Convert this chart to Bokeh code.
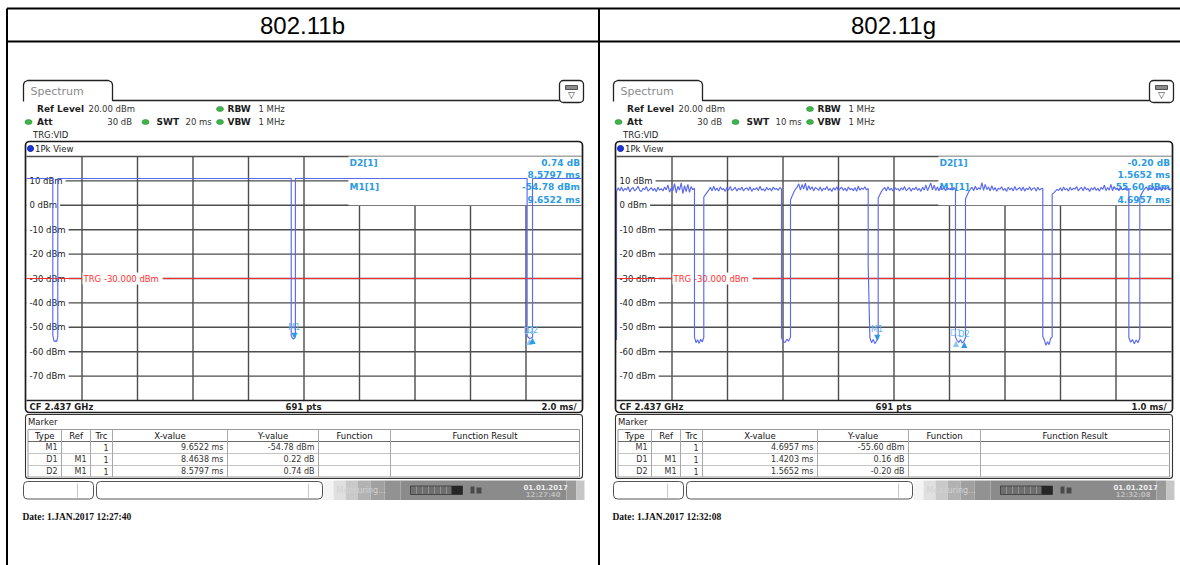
import numpy as np
from bokeh.plotting import figure
from bokeh.models import Range1d
from bokeh.core.properties import value
from bokeh.embed import file_html
from bokeh.resources import INLINE

# ---------------- analyzer settings ----------------
titles = ["802.11b", "802.11g"]
sweep_ms = [20.0, 10.0]
swt_text = ["20 ms", "10 ms"]
div_text = ["2.0 ms/", "1.0 ms/"]
ref_level_text = "20.00 dBm"
att_text = "30 dB"
rbw_text = "1 MHz"
vbw_text = "1 MHz"
cf_text = "CF 2.437 GHz"
pts_text = "691 pts"
trigger_dbm = -30.0
level_ticks = [10, 0, -10, -20, -30, -40, -50, -60, -70]
y_lo, y_hi = -80, 20
stamp_text = ["Date: 1.JAN.2017  12:27:40", "Date: 1.JAN.2017  12:32:08"]
clock_text = ["12:27:40", "12:32:08"]

# ---------------- marker tables (M1 absolute, D1/D2 relative to M1) ----------------
marker_names = ["M1", "D1", "D2"]
marker_refs = ["", "M1", "M1"]
b_marker_x = [9.6522, 8.4638, 8.5797]
b_marker_y = [-54.78, 0.22, 0.74]
g_marker_x = [4.6957, 1.4203, 1.5652]
g_marker_y = [-55.60, 0.16, -0.20]

# ---------------- 802.11b trace: flat bursts with short idle gaps ----------------
b_lead = None
b_burst_edges = [(0.0, 0.948), (1.128, 9.54), (9.69, 18.04), (18.235, 20.0)]
b_burst_levels = [[11.0, 11.0], [11.0, 11.0], [11.0, 11.0], [11.0, 11.0]]
b_gap_floor = [[-53.2, -55.4, -55.9, -55.5, -55.8, -53.6],
               [-53.5, -54.4, -54.78, -54.6, -53.7],
               [-53.4, -54.2, -54.56, -54.4, -54.04]]

# ---------------- 802.11g trace: OFDM bursts (noisy envelope) ----------------
g_lead = (0.0, -55.2)
g_burst_edges = [(0.0, 1.405), (1.573, 2.973), (3.135, 4.535), (4.715, 6.108),
                 (6.288, 7.681), (7.850, 9.231), (9.429, 10.0)]
g_burst_levels = [
    [5.6, 7.2, 6.0, 7.5, 5.8, 6.9, 6.3, 7.6, 5.5, 6.8, 7.3, 5.9, 6.6, 7.8, 6.1, 5.7,
     7.0, 6.4, 7.7, 5.8, 6.5, 7.2, 6.0, 6.9, 5.6, 7.4, 6.2, 6.8, 5.9, 7.5, 6.3, 8.4,
     5.4, 7.1, 6.0, 8.9, 5.1, 7.8, 6.2, 9.2, 4.8, 8.1, 5.6, 8.6, 5.3, 7.7, 6.4, 7.0],
    [3.4, 4.4, 5.3, 6.2, 7.4, 5.9, 7.8, 6.1, 7.1, 5.8, 7.6, 6.4, 6.9, 5.7, 7.3, 6.2,
     7.7, 6.0, 6.6, 7.4, 5.8, 7.0, 6.3, 7.5, 5.9, 6.8, 7.2, 6.1, 7.6, 5.7, 6.9, 6.4,
     7.3, 6.0, 7.8, 6.2, 6.7, 5.8, 7.4, 6.3, 7.0, 5.9, 7.5, 6.5, 6.9, 6.1, 7.3, 6.6],
    [2.2, 3.8, 5.4, 6.6, 7.4, 8.8, 6.2, 8.5, 6.7, 9.1, 6.0, 8.0, 6.5, 7.6, 5.9, 7.3,
     6.8, 6.1, 7.5, 5.8, 7.0, 6.4, 7.7, 6.0, 6.9, 5.7, 7.2, 6.3, 7.6, 5.9, 6.8, 7.4,
     6.1, 7.0, 5.8, 7.5, 6.4, 6.9, 6.0, 7.3, 5.7, 7.8, 6.2, 7.1, 6.5, 7.6, 6.3, 6.9],
    [2.9, 4.3, 5.7, 6.6, 7.3, 5.9, 7.6, 6.2, 7.0, 5.8, 7.4, 6.5, 6.8, 5.9, 7.2, 6.3,
     7.7, 6.0, 6.6, 7.3, 5.8, 7.0, 6.4, 7.5, 6.1, 6.9, 5.7, 7.4, 6.2, 8.3, 6.0, 7.6,
     9.1, 6.3, 8.2, 6.1, 7.5, 5.9, 7.8, 6.4, 7.1, 6.0, 7.4, 6.5, 6.9, 6.2, 7.3, 6.7],
    [2.6, 4.1, 5.6, 6.7, 7.4, 6.0, 7.8, 6.3, 7.2, 6.5, 9.3, 6.1, 8.6, 6.4, 7.5, 5.9,
     8.0, 6.2, 7.3, 5.8, 7.0, 6.6, 7.6, 6.1, 6.9, 5.7, 7.4, 6.3, 7.1, 5.9, 7.7, 6.2,
     6.8, 7.3, 6.0, 7.5, 5.8, 7.0, 6.4, 7.6, 6.1, 6.9, 7.2, 5.9, 7.4, 6.3, 6.8, 7.0],
    [4.6, 5.1, 5.8, 6.5, 6.1, 7.2, 5.9, 7.5, 6.3, 6.9, 5.8, 7.4, 6.2, 7.0, 6.6, 7.7,
     5.9, 6.8, 7.3, 6.0, 7.6, 6.4, 6.9, 5.7, 7.2, 6.3, 7.5, 6.1, 7.0, 5.8, 7.4, 6.5,
     8.2, 6.0, 7.3, 6.2, 8.6, 5.9, 7.7, 6.4, 7.1, 6.0, 7.5, 6.3, 6.8, 7.2, 6.1, 6.9],
    [3.0, 4.6, 5.9, 6.8, 7.5, 6.1, 7.2, 6.5, 7.7, 5.9, 7.0, 6.3, 7.6, 6.0, 7.3, 6.6,
     6.9, 7.4, 6.2, 7.1],
]
g_gap_floor = [[-54.0, -56.3, -55.1, -56.6, -54.9, -56.0, -54.2],
               [-54.3, -55.8, -56.2, -54.9, -55.6, -54.0],
               [-25.0, -54.2, -56.3, -55.0, -56.7, -55.60, -54.5],
               [-54.1, -55.44, -56.2, -55.0, -56.4, -55.8, -54.3],
               [-53.8, -55.2, -57.4, -55.9, -57.1, -54.6, -54.0],
               [-54.2, -56.1, -55.0, -56.7, -55.2, -56.3, -54.4]]


def sweep_trace(edges, levels, floors, lead=None):
    """Join burst and gap readings into one swept trace (evenly spaced sweep points)."""
    t, v = [], []
    if lead is not None:
        t.append(lead[0]); v.append(lead[1])
    for i, ((t0, t1), lv) in enumerate(zip(edges, levels)):
        t += list(np.linspace(t0, t1, len(lv))); v += list(lv)
        if i < len(floors):
            fl = floors[i]
            t += list(np.linspace(t1, edges[i + 1][0], len(fl))); v += list(fl)
    return t, v


traces = [sweep_trace(b_burst_edges, b_burst_levels, b_gap_floor, b_lead),
          sweep_trace(g_burst_edges, g_burst_levels, g_gap_floor, g_lead)]
markers = [(b_marker_x, b_marker_y), (g_marker_x, g_marker_y)]

# ---------------- canvas ----------------
W, H = 1180, 565
p = figure(width=W, height=H, x_range=Range1d(0, W), y_range=Range1d(H, 0),
           toolbar_location=None, output_backend="svg", min_border=0,
           x_axis_location=None, y_axis_location=None, outline_line_color=None,
           background_fill_color="white", border_fill_color="white")
p.xgrid.visible = False
p.ygrid.visible = False

UI = "DejaVu Sans"
TRACE = "#5a6af0"
MARK = "#2b9be3"
GRID = "#4d4d4d"


def put(target, x, y, s, size=8.5, color="#1e1e1e", bold=False, align="left",
        font=UI, baseline="middle", **extra):
    target.text(x=[x], y=[y], text=[s], text_font=value(font),
                text_font_size=f"{size}px", text_color=color, text_align=align,
                text_baseline=baseline,
                text_font_style="bold" if bold else "normal", **extra)


# outer table
p.segment(x0=[6.5, 6.5, 6.5, 598.5], y0=[8, 41, 8, 8],
          x1=[1180, 1180, 6.5, 598.5], y1=[8, 41, 565, 565],
          line_color="black", line_width=2)
for k, cx in enumerate([302, 893]):
    put(p, cx, 25, titles[k], size=24, color="black", align="center",
        font="Liberation Sans")

for k in range(2):
    dx = 590 * k
    swt = sweep_ms[k]
    fl, fr, ft, fb = 26 + dx, 581 + dx, 156, 400

    # ---- "Spectrum" tab and setting lines ----
    p.line(x=[23 + dx, 23 + dx, 24 + dx, 27 + dx, 108 + dx, 111 + dx, 112 + dx, 112 + dx, 583 + dx],
           y=[101, 84, 81.5, 80, 80, 81.5, 84, 100, 100], line_color="#222", line_width=1.3)
    put(p, 30 + dx, 91, "Spectrum", size=11, color="#8a8a8a")
    p.quad(left=559 + dx, right=583 + dx, top=80, bottom=102, fill_color="white",
           line_color="#222", line_width=1.3, border_radius=4)
    p.quad(left=565 + dx, right=577 + dx, top=85, bottom=89, fill_color="#8c8c8c",
           line_color="#333", line_width=0.8)
    put(p, 571 + dx, 94.5, "\u25BD", size=9, color="#333", align="center")

    put(p, 36.5 + dx, 108.5, "Ref Level", size=9, bold=True)
    put(p, 88 + dx, 108.5, ref_level_text, size=8.5, color="#333")
    put(p, 36.5 + dx, 121.5, "Att", size=9, bold=True)
    put(p, 131.5 + dx, 121.5, att_text, size=8.5, color="#333", align="right")
    put(p, 156 + dx, 121.5, "SWT", size=9, bold=True)
    put(p, 185 + dx, 121.5, swt_text[k], size=8.5, color="#333")
    put(p, 227 + dx, 108.5, "RBW", size=9, bold=True)
    put(p, 258 + dx, 108.5, rbw_text, size=8.5, color="#333")
    put(p, 227 + dx, 121.5, "VBW", size=9, bold=True)
    put(p, 258 + dx, 121.5, vbw_text, size=8.5, color="#333")
    p.ellipse(x=[28 + dx, 145 + dx, 219.5 + dx, 219.5 + dx], y=[121.5, 121.5, 121.5, 108.5],
              width=7, height=5, fill_color="#3fb24c", line_color="#2b8f36", line_width=0.6)
    put(p, 32.5 + dx, 134.5, "TRG:VID", size=8.5, color="#222")

    # ---- trace panel ----
    p.quad(left=25 + dx, right=582 + dx, top=141, bottom=412, fill_color="white",
           line_color=None, border_radius=4)
    p.scatter(x=[30 + dx], y=[148], size=6, fill_color="#1a35e0", line_color="#0c1f9a")
    put(p, 34.5 + dx, 148.5, "1Pk View", size=8.5, color="#222")

    sp = p.subplot(x_source=Range1d(0, swt), y_source=Range1d(y_lo, y_hi),
                   x_target=Range1d(fl, fr), y_target=Range1d(fb, ft))

    vdiv = [swt * i / 10 for i in range(1, 10)]
    sp.segment(x0=vdiv, x1=vdiv, y0=[y_lo] * 9, y1=[y_hi] * 9, line_color=GRID, line_width=1.4)
    hlev = level_ticks + [y_hi]
    sp.segment(x0=[0] * len(hlev), x1=[swt] * len(hlev), y0=hlev, y1=hlev,
               line_color=GRID, line_width=1.4)
    # marker readout area hides the grid behind it
    sp.quad(left=[0.58 * swt], right=[swt], bottom=[0], top=[y_hi], fill_color="white",
            line_color=None)

    sp.text(x=[0] * len(level_ticks), y=level_ticks, text=[f"{v} dBm" for v in level_ticks],
            x_offset=0, text_font=value(UI), text_font_size="8.5px", text_color="#222",
            text_baseline="middle", background_fill_color="white", padding=3)

    # trigger level
    sp.segment(x0=[0], x1=[swt], y0=[trigger_dbm], y1=[trigger_dbm], line_color="#ff2a2a",
               line_width=1.0)
    sp.text(x=[0], y=[trigger_dbm], text=[f"TRG  {trigger_dbm:.3f} dBm"], x_offset=56,
            text_font=value(UI), text_font_size="8.5px", text_color="#ff3030",
            text_baseline="middle", background_fill_color="white", padding=1)

    # marker readout
    mx, my = markers[k]
    unit = ["dBm", "dB", "dB"]
    put(p, 349 + dx, 162.5, "D2[1]", size=9, bold=True, color=MARK)
    put(p, 579.5 + dx, 162.5, f"{my[2]:.2f} dB", size=9, bold=True, color=MARK, align="right")
    put(p, 579.5 + dx, 174.5, f"{mx[2]:.4f} ms", size=9, bold=True, color=MARK, align="right")
    put(p, 349 + dx, 186.7, "M1[1]", size=9, bold=True, color=MARK)
    put(p, 579.5 + dx, 186.7, f"{my[0]:.2f} dBm", size=9, bold=True, color=MARK, align="right")
    put(p, 579.5 + dx, 199, f"{mx[0]:.4f} ms", size=9, bold=True, color=MARK, align="right")

    # trace
    t, v = traces[k]
    sp.line(x=t, y=v, line_color=TRACE, line_width=1.15)

    # markers on the trace
    m_abs_x = [mx[0], mx[0] + mx[1], mx[0] + mx[2]]
    m_abs_y = [my[0], my[0] + my[1], my[0] + my[2]]
    sp.text(x=[m_abs_x[0]], y=[m_abs_y[0]], text=["\u25BC"], y_offset=-3,
            text_font=value(UI), text_font_size="8px", text_color=MARK,
            text_align="center", text_baseline="middle")
    sp.text(x=[m_abs_x[0]], y=[m_abs_y[0]], text=["M1"], y_offset=-11,
            text_font=value(UI), text_font_size="8px", text_color="#5fb4ee",
            text_align="center", text_baseline="middle")
    sp.text(x=m_abs_x[1:], y=m_abs_y[1:], text=["\u25B2", "\u25B2"], y_offset=3,
            text_font=value(UI), text_font_size="8px", text_color=["#8cc6f0", MARK],
            text_align="center", text_baseline="middle")
    sp.text(x=m_abs_x[1:], y=m_abs_y[1:], text=marker_names[1:], y_offset=-7,
            text_font=value(UI), text_font_size="8px", text_color=["#8cc6f0", "#5fb4ee"],
            text_align="center", text_baseline="middle")

    # bottom status line of the diagram
    p.segment(x0=[fl], x1=[fr], y0=[fb], y1=[fb], line_color="#222", line_width=1.3)
    put(p, 29 + dx, 406.5, cf_text, size=8.5, bold=True)
    put(p, 303 + dx, 406.5, pts_text, size=8.5, bold=True, align="center")
    put(p, 576 + dx, 406.5, div_text[k], size=8.5, bold=True, align="right")
    p.quad(left=25 + dx, right=582 + dx, top=141, bottom=412, fill_color=None,
           line_color="#1a1a1a", line_width=1.7, border_radius=4)

    # ---- marker table ----
    p.quad(left=25 + dx, right=582 + dx, top=414, bottom=478, fill_color="white",
           line_color="#333", line_width=1.1, border_radius=3)
    put(p, 27.5 + dx, 421, "Marker", size=8.5, color="#222")
    cols = [27.5, 61, 90, 112, 227, 318, 390, 579]
    rows = [429, 441, 453, 465, 476.5]
    p.quad(left=cols[0] + dx, right=cols[-1] + dx, top=rows[0], bottom=rows[-1],
           fill_color="white", line_color="#9a9a9a", line_width=1)
    p.segment(x0=[cols[0] + dx] * 3, x1=[cols[-1] + dx] * 3, y0=rows[1:4], y1=rows[1:4],
              line_color=["#6a6a6a", "#c4c4c4", "#c4c4c4"], line_width=1)
    p.segment(x0=[c + dx for c in cols[1:-1]], x1=[c + dx for c in cols[1:-1]],
              y0=[rows[0]] * 6, y1=[rows[-1]] * 6, line_color="#a8a8a8", line_width=1)
    heads = ["Type", "Ref", "Trc", "X-value", "Y-value", "Function", "Function Result"]
    for j, h in enumerate(heads):
        put(p, (cols[j] + cols[j + 1]) / 2 + dx, 435, h, size=8.5, color="#111",
            align="center")
    for r in range(3):
        yc = (rows[r + 1] + rows[r + 2]) / 2
        cells = [marker_names[r], marker_refs[r], "1", f"{mx[r]:.4f} ms",
                 f"{my[r]:.2f} {unit[r]}"]
        for j, c in enumerate(cells):
            put(p, cols[j + 1] - 4 + dx, yc, c, size=8, color="#333", align="right")

    # ---- instrument status bar ----
    p.quad(left=23 + dx, right=93 + dx, top=481, bottom=498.5, fill_color="white",
           line_color="#555", line_width=1, border_radius=4)
    p.quad(left=96 + dx, right=322 + dx, top=481, bottom=498.5, fill_color="white",
           line_color="#555", line_width=1, border_radius=4)
    p.segment(x0=[77 + dx, 308 + dx], x1=[77 + dx, 308 + dx], y0=[483, 483], y1=[497, 497],
              line_color="#c8c8c8", line_width=1)
    shade_x = [323, 333, 345, 357, 370, 384, 400, 566, 576, 584]
    shade_c = ["#f4f4f4", "#e0e0e0", "#c9c9c9", "#b2b2b2", "#a0a0a0", "#929292",
               "#8b8b8b", "#9a9a9a", "#c6c6c6"]
    p.quad(left=[s + dx for s in shade_x[:-1]], right=[s + dx for s in shade_x[1:]],
           top=[480] * 9, bottom=[499.5] * 9, fill_color=shade_c, line_color=None)
    put(p, 336 + dx, 490, "Measuring...", size=8, color="#d2d2d2")
    p.quad(left=410 + dx, right=462 + dx, top=485.5, bottom=494, fill_color="#6e6e6e",
           line_color="#3a3a3a", line_width=0.8)
    p.quad(left=451 + dx, right=462 + dx, top=485.5, bottom=494, fill_color="#262626",
           line_color=None)
    p.segment(x0=[416 + 6 * i + dx for i in range(6)], x1=[416 + 6 * i + dx for i in range(6)],
              y0=[486] * 6, y1=[493.5] * 6, line_color="#9a9a9a", line_width=0.8)
    p.quad(left=[470 + dx, 476 + dx], right=[474 + dx, 481 + dx], top=[486, 487],
           bottom=[493, 493], fill_color="#4a4a4a", line_color=None)
    put(p, 523 + dx, 486, "01.01.2017", size=7, bold=True, color="#ececec")
    put(p, 560 + dx, 494.5, clock_text[k], size=7, bold=True, color="#bdbdbd",
        align="right")

    put(p, 22 + dx, 516.5, stamp_text[k], size=9.5, bold=True, color="#111",
        font="Liberation Serif")

open("out.html", "w").write(file_html(p, INLINE))
